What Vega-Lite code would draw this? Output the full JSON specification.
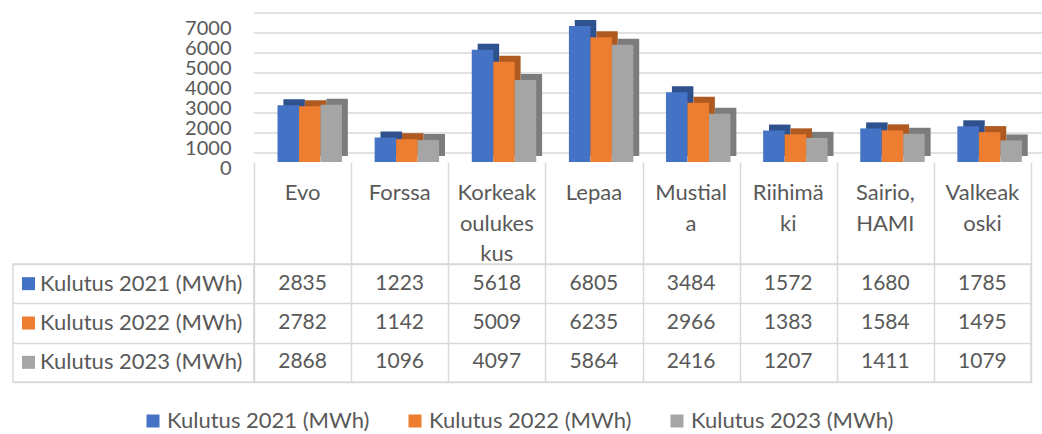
{
  "$schema": "https://vega.github.io/schema/vega-lite/v6.json",
  "autosize": {"type": "pad"},
  "padding": {"left": 12, "top": 12, "right": 0, "bottom": 0},
  "background": "white",
  "config": {
    "font": "Lato",
    "view": {"stroke": null}
  },
  "datasets": {
    "d": [
      {"kohde": "Evo", "series": "Kulutus 2021 (MWh)", "value": 2835},
      {"kohde": "Evo", "series": "Kulutus 2022 (MWh)", "value": 2782},
      {"kohde": "Evo", "series": "Kulutus 2023 (MWh)", "value": 2868},
      {"kohde": "Forssa", "series": "Kulutus 2021 (MWh)", "value": 1223},
      {"kohde": "Forssa", "series": "Kulutus 2022 (MWh)", "value": 1142},
      {"kohde": "Forssa", "series": "Kulutus 2023 (MWh)", "value": 1096},
      {"kohde": "Korkeakoulukeskus", "series": "Kulutus 2021 (MWh)", "value": 5618},
      {"kohde": "Korkeakoulukeskus", "series": "Kulutus 2022 (MWh)", "value": 5009},
      {"kohde": "Korkeakoulukeskus", "series": "Kulutus 2023 (MWh)", "value": 4097},
      {"kohde": "Lepaa", "series": "Kulutus 2021 (MWh)", "value": 6805},
      {"kohde": "Lepaa", "series": "Kulutus 2022 (MWh)", "value": 6235},
      {"kohde": "Lepaa", "series": "Kulutus 2023 (MWh)", "value": 5864},
      {"kohde": "Mustiala", "series": "Kulutus 2021 (MWh)", "value": 3484},
      {"kohde": "Mustiala", "series": "Kulutus 2022 (MWh)", "value": 2966},
      {"kohde": "Mustiala", "series": "Kulutus 2023 (MWh)", "value": 2416},
      {"kohde": "Riihimäki", "series": "Kulutus 2021 (MWh)", "value": 1572},
      {"kohde": "Riihimäki", "series": "Kulutus 2022 (MWh)", "value": 1383},
      {"kohde": "Riihimäki", "series": "Kulutus 2023 (MWh)", "value": 1207},
      {"kohde": "Sairio, HAMI", "series": "Kulutus 2021 (MWh)", "value": 1680},
      {"kohde": "Sairio, HAMI", "series": "Kulutus 2022 (MWh)", "value": 1584},
      {"kohde": "Sairio, HAMI", "series": "Kulutus 2023 (MWh)", "value": 1411},
      {"kohde": "Valkeakoski", "series": "Kulutus 2021 (MWh)", "value": 1785},
      {"kohde": "Valkeakoski", "series": "Kulutus 2022 (MWh)", "value": 1495},
      {"kohde": "Valkeakoski", "series": "Kulutus 2023 (MWh)", "value": 1079}
    ],
    "cats": [
      {"kohde": "Evo", "label": "Evo"},
      {"kohde": "Forssa", "label": "Forssa"},
      {"kohde": "Korkeakoulukeskus", "label": "Korkeak\noulukes\nkus"},
      {"kohde": "Lepaa", "label": "Lepaa"},
      {"kohde": "Mustiala", "label": "Mustial\na"},
      {"kohde": "Riihimäki", "label": "Riihimä\nki"},
      {"kohde": "Sairio, HAMI", "label": "Sairio,\nHAMI"},
      {"kohde": "Valkeakoski", "label": "Valkeak\noski"}
    ],
    "ser": [
      {"series": "Kulutus 2021 (MWh)"},
      {"series": "Kulutus 2022 (MWh)"},
      {"series": "Kulutus 2023 (MWh)"}
    ],
    "grid": [
      {"v": 0}, {"v": 1000}, {"v": 2000}, {"v": 3000}, {"v": 4000}, {"v": 5000}, {"v": 6000}, {"v": 7000}
    ]
  },
  "columns": 2,
  "spacing": 0,
  "bounds": "flush",
  "concat": [
    {
      "data": {"values": [{}]},
      "width": 241, "height": 140,
      "mark": {"type": "text"},
      "encoding": {"text": {"value": ""}}
    },
    {
      "width": 777, "height": 140,
      "layer": [
        {
          "data": {"name": "grid"},
          "mark": {"type": "rule", "color": "#d9d9d9", "strokeWidth": 1.5, "xOffset": 18, "x2Offset": 18, "yOffset": -9},
          "encoding": {
            "y": {"field": "v", "type": "quantitative", "scale": {"domain": [0, 7000], "nice": false},
                  "axis": {"title": null, "grid": false, "domain": false, "ticks": false, "labelPadding": 23, "labelOffset": 6,
                           "labelFontSize": 20, "labelColor": "#595959", "values": [0,1000,2000,3000,4000,5000,6000,7000],
                           "labelFlush": false, "labelOverlap": false, "format": "d"}}
          }
        },
        {
          "data": {"name": "d"},
          "mark": {"type": "bar", "yOffset": -6, "y2Offset": -6},
          "encoding": {
            "x": {"field": "kohde", "type": "nominal", "sort": null, "scale": {"paddingInner": 0, "paddingOuter": 0}, "axis": null},
            "xOffset": {"field": "series", "type": "nominal", "sort": null, "scale": {"paddingInner": 0, "paddingOuter": 0.76, "align": 0.9}},
            "y": {"field": "value", "type": "quantitative",
                  "axis": {"title": null, "grid": false, "domain": false, "ticks": false, "labelPadding": 23, "labelOffset": 6,
                           "labelFontSize": 20, "labelColor": "#595959", "values": [0,1000,2000,3000,4000,5000,6000,7000],
                           "labelFlush": false, "labelOverlap": false, "format": "d"}},
            "fill": {"field": "series", "type": "nominal", "scale": {"range": ["#2F528F", "#AE5A21", "#7C7C7C"]}, "legend": null}
          }
        },
        {
          "data": {"name": "d"},
          "mark": {"type": "bar"},
          "encoding": {
            "x": {"field": "kohde", "type": "nominal", "sort": null, "scale": {"paddingInner": 0, "paddingOuter": 0}, "axis": null},
            "xOffset": {"field": "series", "type": "nominal", "sort": null, "scale": {"paddingInner": 0, "paddingOuter": 0.76, "align": 0.72}},
            "y": {"field": "value", "type": "quantitative",
                  "axis": {"title": null, "grid": false, "domain": false, "ticks": false, "labelPadding": 23, "labelOffset": 6,
                           "labelFontSize": 20, "labelColor": "#595959", "values": [0,1000,2000,3000,4000,5000,6000,7000],
                           "labelFlush": false, "labelOverlap": false, "format": "d"}},
            "color": {"field": "series", "type": "nominal", "title": null,
                      "scale": {"domain": ["Kulutus 2021 (MWh)", "Kulutus 2022 (MWh)", "Kulutus 2023 (MWh)"], "range": ["#4472C4", "#ED7D31", "#A5A5A5"]},
                      "legend": {"orient": "none", "legendX": 129, "legendY": 388, "direction": "horizontal", "symbolType": "square",
                                 "symbolSize": 169, "symbolStrokeWidth": 0, "labelFontSize": 22, "labelColor": "#595959",
                                 "columnPadding": 34, "labelOffset": 3, "labelLimit": 0}}
          }
        }
      ],
      "resolve": {"scale": {"xOffset": "independent"}}
    },
    {
      "data": {"values": [{}]},
      "width": 241, "height": 102,
      "mark": {"type": "text"},
      "encoding": {"text": {"value": ""}}
    },
    {
      "data": {"name": "cats"},
      "width": 777, "height": 102,
      "mark": {"type": "text", "baseline": "top", "lineBreak": "\n", "lineHeight": 30.5, "fontSize": 22, "color": "#595959", "dy": -30},
      "encoding": {
        "x": {"field": "kohde", "type": "nominal", "sort": null, "scale": {"type": "band", "paddingInner": 0, "paddingOuter": 0},
              "axis": {"labels": false, "ticks": false, "domain": false, "title": null, "grid": true, "tickBand": "extent", "gridColor": "#d9d9d9", "gridWidth": 1.5}},
        "text": {"field": "label"}
      }
    },
    {
      "data": {"name": "ser"},
      "width": 241, "height": 118,
      "view": {"stroke": "#d9d9d9", "strokeWidth": 1.5},
      "encoding": {
        "y": {"field": "series", "type": "nominal", "sort": null, "scale": {"type": "band", "paddingInner": 0, "paddingOuter": 0},
              "axis": {"labels": false, "ticks": false, "domain": false, "title": null, "grid": true, "tickBand": "extent", "gridColor": "#d9d9d9", "gridWidth": 1.5}}
      },
      "layer": [
        {
          "mark": {"type": "point", "shape": "square", "filled": true, "opacity": 1, "size": 169, "xOffset": -105},
          "encoding": {
            "color": {"field": "series", "type": "nominal", "title": null,
                      "scale": {"domain": ["Kulutus 2021 (MWh)", "Kulutus 2022 (MWh)", "Kulutus 2023 (MWh)"], "range": ["#4472C4", "#ED7D31", "#A5A5A5"]}}
          }
        },
        {
          "mark": {"type": "text", "align": "left", "dx": -93.5, "fontSize": 22, "color": "#595959"},
          "encoding": {"text": {"field": "series"}}
        }
      ]
    },
    {
      "data": {"name": "d"},
      "width": 777, "height": 118,
      "view": {"stroke": "#d9d9d9", "strokeWidth": 1.5},
      "mark": {"type": "text", "fontSize": 21, "color": "#595959"},
      "encoding": {
        "x": {"field": "kohde", "type": "nominal", "sort": null, "scale": {"type": "band", "paddingInner": 0, "paddingOuter": 0},
              "axis": {"labels": false, "ticks": false, "domain": false, "title": null, "grid": true, "tickBand": "extent", "gridColor": "#d9d9d9", "gridWidth": 1.5}},
        "y": {"field": "series", "type": "nominal", "sort": null, "scale": {"type": "band", "paddingInner": 0, "paddingOuter": 0},
              "axis": {"labels": false, "ticks": false, "domain": false, "title": null, "grid": true, "tickBand": "extent", "gridColor": "#d9d9d9", "gridWidth": 1.5}},
        "text": {"field": "value", "type": "quantitative", "format": "d"}
      }
    }
  ]
}
